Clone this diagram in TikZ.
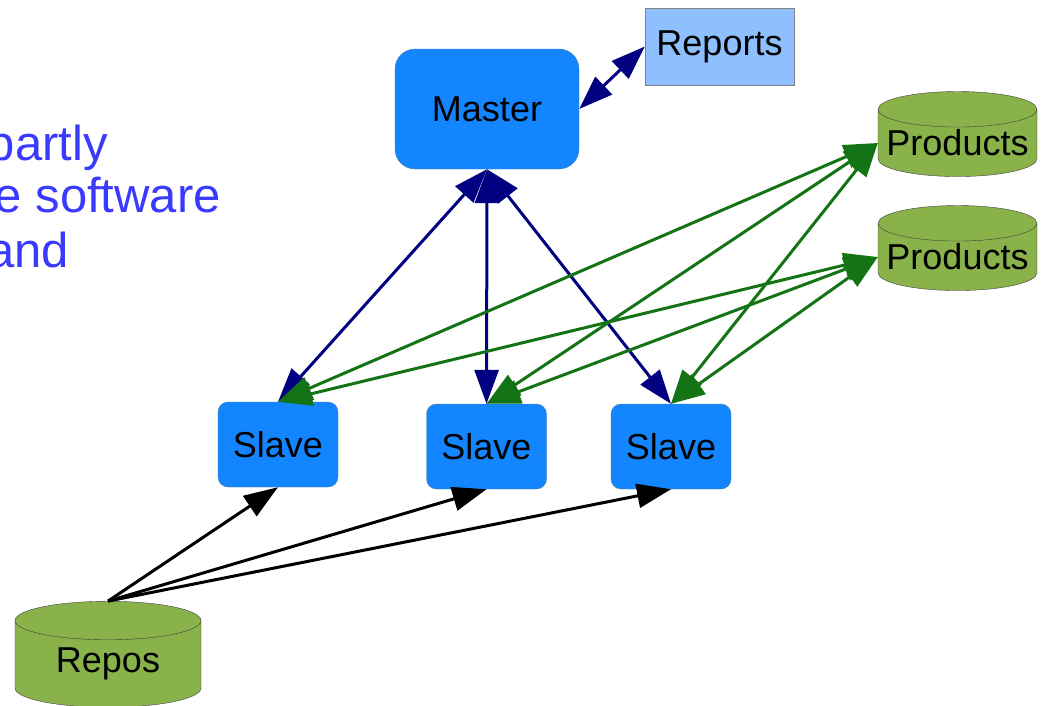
\documentclass[tikz,border=0pt]{standalone}
\usepackage{fontspec}
\setmainfont{Liberation Sans}
\usetikzlibrary{arrows.meta,shapes.geometric}
\definecolor{NodeBlue}{HTML}{1385FF}
\definecolor{NodeEdge}{HTML}{4F7FB0}
\definecolor{ReportBlue}{HTML}{8EC0FF}
\definecolor{StoreGreen}{HTML}{8AB24B}
\definecolor{LinkNavy}{HTML}{000080}
\definecolor{FeedGreen}{HTML}{147314}
\definecolor{NoteBlue}{HTML}{3A3AFF}

\begin{document}
\begin{tikzpicture}[x=1pt,y=-1pt,
    box/.style={draw=NodeEdge,fill=NodeBlue,rounded corners=10pt,inner sep=0pt,font=\fontsize{36}{40}\selectfont},
    report/.style={draw=black!50,fill=ReportBlue,inner sep=0pt,font=\fontsize{36}{40}\selectfont},
    store/.style={cylinder,shape border rotate=90,draw=black!75,fill=StoreGreen,inner sep=0pt,font=\fontsize{36}{40}\selectfont},
    note/.style={anchor=base east,inner sep=0pt,text=NoteBlue,font=\fontsize{49}{54}\selectfont},
    tip/.tip={Triangle[length=34pt,width=24pt]},
    link/.style={tip-tip,line width=3pt,color=LinkNavy},
    feed/.style={tip-tip,line width=3pt,color=FeedGreen},
    pull/.style={-tip,line width=3pt,color=black}
  ]
    \clip (0,0) rectangle (1041,705);
    % text cut off at the left
    \node[note] (note1) at (108,160) {partly};
    \node[note] (note2) at (221,212) {e software};
    \node[note] (note3) at (69,267) {and};

    \node[box,minimum width=184pt,minimum height=120pt,rounded corners=20pt] (master) at (487,109) {Master};
    \node[report,minimum width=149pt,minimum height=77pt] (reports) at (719.5,46.5) {Reports};
    \foreach \n/\x/\y in {1/278/444.5,2/486.5/446.5,3/671/446.5}
      \node[box,minimum width=120pt,minimum height=85pt] (slave\n) at (\x,\y) {Slave};
    \node[store,minimum width=159pt,minimum height=85pt,aspect=0.25] (prod1) at (957.5,143) {Products};
    \node[store,minimum width=159pt,minimum height=85pt,aspect=0.25] (prod2) at (957.5,257) {Products};
    \node[store,minimum width=186pt,minimum height=106pt,aspect=0.37] (repos) at (108,664) {Repos};

    \draw[link] (master.east) -- (reports.west);
    \foreach \n in {1,2,3}
      \draw[link] (master.south) -- (slave\n.north);
    \foreach \p in {1,2}
      \foreach \n in {1,2,3}
        \draw[feed] (prod\p.west) -- (slave\n.north);
    \foreach \n in {1,2,3}
      \draw[pull] (repos.north) -- (slave\n.south);
  \end{tikzpicture}
\end{document}
